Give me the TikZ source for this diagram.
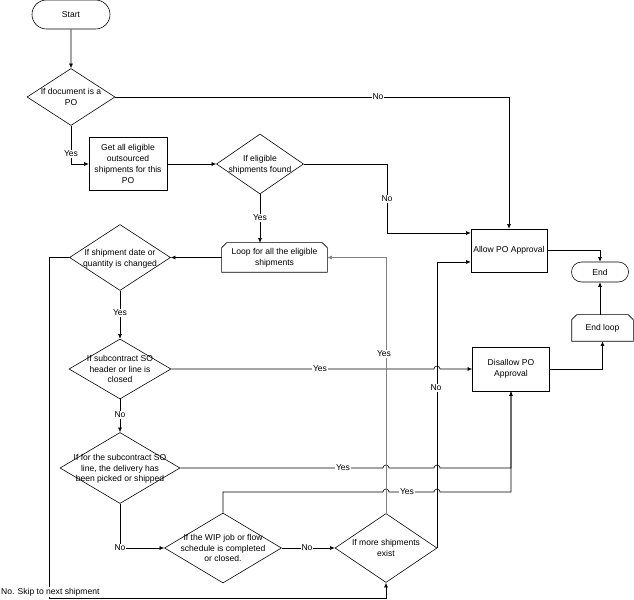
\documentclass[tikz,border=0pt]{standalone}
\usepackage{fontspec}
\setmainfont{Liberation Sans}
\usetikzlibrary{shapes.geometric,shapes.misc,arrows.meta,calc}

% text of a decision, kept out of the size of the diamond
\newcommand{\dtext}[1]{\makebox[0pt]{\smash{\raisebox{-2.5pt}{\begin{tabular}{@{}c@{}}#1\end{tabular}}}}}

\begin{document}
\begin{tikzpicture}[
        x=0.03cm, y=-0.03cm,
        font=\fontsize{7.3}{9.3}\selectfont,
        line width=0.5pt,
        term/.style={draw, rounded rectangle, inner sep=0pt},
        dec/.style={draw, diamond, inner sep=0pt},
        proc/.style={draw, rectangle, align=center, inner sep=1pt},
        loopbox/.style={rectangle, align=center, inner sep=1pt},
        lbl/.style={fill=white, inner sep=0.8pt},
        >={Latex[length=4pt,width=3.5pt]}
        ]
        \useasboundingbox (0,0) rectangle (634,600);

        \node[term, minimum width=2.34cm, minimum height=0.87cm] (start) at (71,14.5) {Start};
        \node[dec, minimum width=2.64cm, minimum height=1.71cm] (isPO) at (71,97) {\dtext{If document is a\\PO}};
        \node[proc, minimum width=2.34cm, minimum height=1.59cm] (getAll) at (128,164) {Get all eligible\\outsourced\\shipments for this\\PO};
        \node[dec, minimum width=2.61cm, minimum height=1.8cm] (found) at (260,164) {\dtext{If eligible\\shipments found}};
        \node[loopbox, minimum width=3.15cm, minimum height=0.87cm] (loop) at (274.5,257.5) {Loop for all the eligible\\shipments};
        \node[dec, minimum width=3.03cm, minimum height=1.98cm] (changed) at (120,257.5) {\dtext{If shipment date or\\quantity is changed}};
        \node[dec, minimum width=3.06cm, minimum height=1.8cm] (soClosed) at (120,369) {\dtext{If subcontract SO\\header or line is\\closed}};
        \node[dec, minimum width=3.6cm, minimum height=2.13cm] (picked) at (120,468) {\dtext{If for the subcontract SO\\line, the delivery has\\been picked or shipped}};
        \node[dec, minimum width=3.51cm, minimum height=2.1cm] (wip) at (223,548) {\dtext{If the WIP job or flow\\schedule is completed\\or closed.}};
        \node[dec, minimum width=3.06cm, minimum height=2.07cm] (more) at (386,548) {\dtext{If more shipments\\exist}};
        \node[proc, minimum width=2.28cm, minimum height=1.29cm] (allow) at (509,250.5) {Allow PO Approval};
        \node[proc, minimum width=2.31cm, minimum height=1.32cm] (disallow) at (511,369) {Disallow PO\\Approval};
        \node[term, minimum width=1.71cm, minimum height=0.6cm] (end) at (600,272) {End};
        \node[loopbox, minimum width=1.83cm, minimum height=0.78cm] (endLoop) at (602.5,328) {End loop};

        % loop limit outlines
        \foreach \n in {loop,endLoop}
          \draw (\n.south west) -- ($(\n.north west)+(0,5)$) -- ($(\n.north west)+(5,0)$)
            -- ($(\n.north east)+(-5,0)$) -- ($(\n.north east)+(0,5)$) -- (\n.south east) -- cycle;

        \coordinate (nFound) at (387,233);
        \coordinate (nMore) at (437,262);
        \coordinate (skip) at (49,598);

        \draw[->] (start) -- (isPO);
        \draw[->] (isPO.east) -| (allow.north);
        \draw[->] (isPO.south) |- (getAll.west);
        \draw[->] (getAll) -- (found);
        \draw[->] (found.east) -| (nFound) -- (nFound -| allow.west);
        \draw[->] (found.south) -- (found.south |- loop.north);
        \draw[->] (loop) -- (changed);
        \draw[->] (changed.west) -| (skip) -| (more.south);
        \draw[->] (changed) -- (soClosed);
        \draw[->] (soClosed.east) -- (434,369) arc[start angle=180,end angle=0,radius=0.09cm] -- (disallow.west);
        \draw[->] (soClosed) -- (picked);
        \draw[->] (picked.east) -- (383,468) arc[start angle=180,end angle=0,radius=0.09cm]
          -- (434,468) arc[start angle=180,end angle=0,radius=0.09cm] -| (disallow.south);
        \draw (wip.north) |- (383,492) arc[start angle=180,end angle=0,radius=0.09cm]
          -- (434,492) arc[start angle=180,end angle=0,radius=0.09cm] -| (disallow.south);
        \draw[->] (picked.south) |- (wip.west);
        \draw[->] (wip) -- (more);
        \draw[->, gray] (more.north) |- (loop.east);
        \draw[->] (more.east) |- (allow.west |- nMore);
        \draw[->] (allow.east) -| (end.north);
        \draw[->] (end.south |- endLoop.north) -- (end.south);
        \draw[->] (disallow.east) -| (endLoop.south);

        \node[lbl] (noPO) at (378,97) {No};
        \node[lbl] (yesPO) at (71,154) {Yes};
        \node[lbl] (noFound) at (387,199) {No};
        \node[lbl] (yesFound) at (260,218) {Yes};
        \node[lbl] (yesChanged) at (120,313) {Yes};
        \node[lbl] (yesClosed) at (320,369) {Yes};
        \node[lbl] (noClosed) at (120,415) {No};
        \node[lbl] (yesPicked) at (343,468) {Yes};
        \node[lbl] (noPicked) at (120,548) {No};
        \node[lbl] (yesWip) at (407,492) {Yes};
        \node[lbl] (noWip) at (307,548) {No};
        \node[lbl] (yesMore) at (384,354) {Yes};
        \node[lbl] (noMore) at (436,388) {No};
        \node[lbl, anchor=west] (skipLbl) at (0,592) {No. Skip to next shipment};
      \end{tikzpicture}
\end{document}
